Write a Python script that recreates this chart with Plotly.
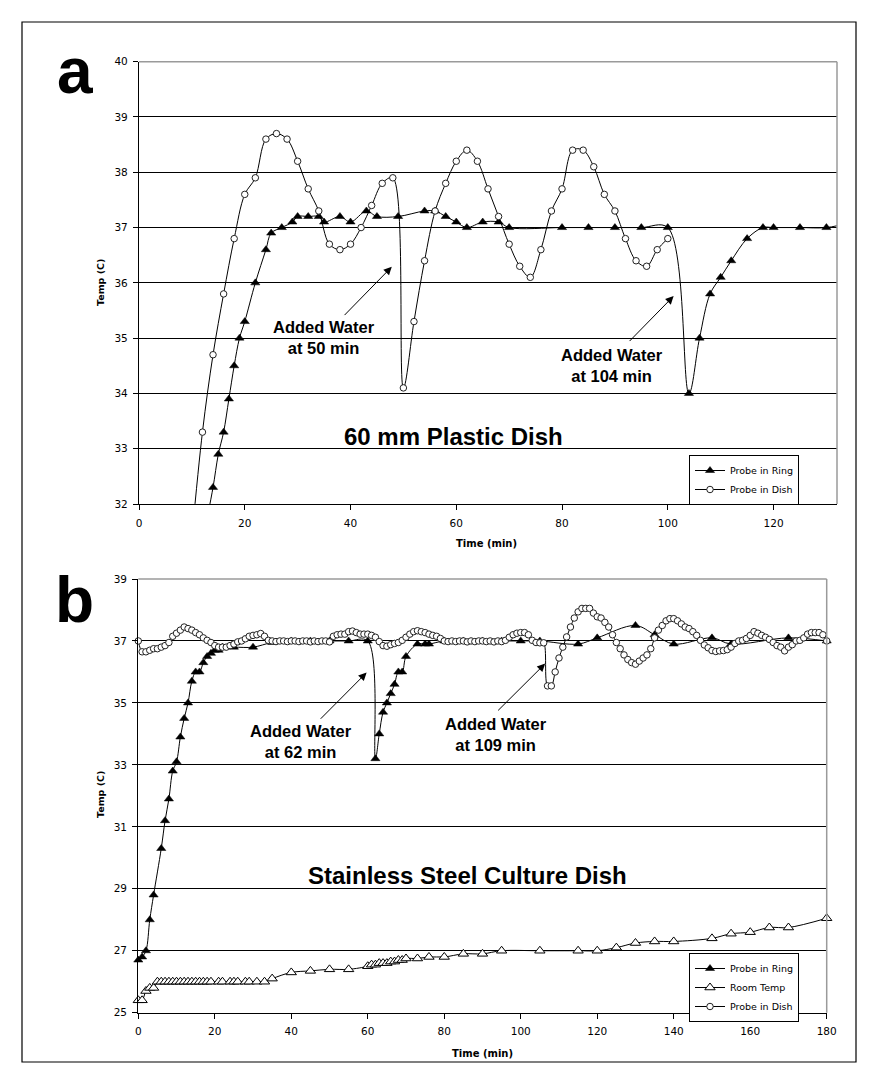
import plotly.graph_objects as go

W, H = 878, 1084

# ---------------- Panel a data (60 mm Plastic Dish) ----------------
ring_a_t = [13, 14, 15, 16, 17, 18, 19, 20, 22, 24, 25, 27, 29, 30, 32, 34, 35, 38, 40, 43,
            45, 49, 54, 56, 58, 60, 62, 65, 68, 70, 80, 85, 90, 95, 100, 104, 106, 108, 110,
            112, 115, 118, 120, 125, 130, 135]
ring_a_v = [31.8, 32.3, 32.9, 33.3, 33.9, 34.5, 35.0, 35.3, 36.0, 36.6, 36.9, 37.0, 37.1, 37.2,
            37.2, 37.2, 37.1, 37.2, 37.1, 37.3, 37.2, 37.2, 37.3, 37.3, 37.2, 37.1, 37.0, 37.1,
            37.1, 37.0, 37.0, 37.0, 37.0, 37.0, 37.0, 34.0, 35.0, 35.8, 36.1, 36.4, 36.8, 37.0,
            37.0, 37.0, 37.0, 37.1]

dish_a_t = [10, 12, 14, 16, 18, 20, 22, 24, 26, 28, 30, 32, 34, 36, 38, 40, 42, 44, 46, 48,
            50, 52, 54, 56, 58, 60, 62, 64, 66, 68, 70, 72, 74, 76, 78, 80, 82, 84, 86, 88,
            90, 92, 94, 96, 98, 100]
dish_a_v = [31.4, 33.3, 34.7, 35.8, 36.8, 37.6, 37.9, 38.6, 38.7, 38.6, 38.2, 37.7, 37.3, 36.7,
            36.6, 36.7, 37.0, 37.4, 37.8, 37.9, 34.1, 35.3, 36.4, 37.3, 37.8, 38.2, 38.4, 38.2,
            37.7, 37.2, 36.7, 36.3, 36.1, 36.6, 37.3, 37.7, 38.4, 38.4, 38.1, 37.6, 37.3, 36.8,
            36.4, 36.3, 36.6, 36.8]

# ---------------- Panel b data (Stainless Steel Culture Dish) ----------------
ring_b_t = [0, 1, 2, 3, 4, 6, 7, 8, 9, 10, 11, 12, 13, 14, 15, 16, 17, 18, 19, 20, 21, 22, 25,
            30, 35, 40, 45, 50, 55, 60, 62, 63, 64, 65, 66, 67, 68, 69, 70, 73, 75, 76, 80, 85,
            90, 95, 100, 105, 115, 120, 130, 135, 140, 150, 155, 170, 180]
ring_b_v = [26.7, 26.8, 27.0, 28.0, 28.8, 30.3, 31.2, 31.9, 32.8, 33.1, 33.9, 34.5, 35.0, 35.7,
            36.0, 36.0, 36.3, 36.5, 36.6, 36.7, 36.7, 36.8, 36.8, 36.8, 36.95, 37.0, 37.0, 37.0,
            37.0, 37.0, 33.2, 34.0, 34.7, 35.0, 35.3, 35.6, 36.0, 36.0, 36.5, 36.9, 36.9, 36.9,
            37.0, 37.0, 37.0, 37.0, 37.0, 37.0, 36.9, 37.1, 37.5, 37.2, 36.9, 37.1, 36.9, 37.1,
            37.0]

room_t = [0, 1, 2, 3, 4, 5, 6, 7, 8, 9, 10, 11, 12, 13, 14, 15, 16, 17, 18, 19, 21, 22, 24, 25,
          26, 28, 29, 31, 33, 35, 40, 45, 50, 55, 60, 61, 62, 63, 64, 65, 66, 67, 68, 69, 70, 73,
          76, 80, 85, 90, 95, 105, 115, 120, 125, 130, 135, 140, 150, 155, 160, 165, 170, 180]
room_v = [25.4, 25.4, 25.7, 25.8, 25.8, 26.0, 26.0, 26.0, 26.0, 26.0, 26.0, 26.0, 26.0, 26.0,
          26.0, 26.0, 26.0, 26.0, 26.0, 26.0, 26.0, 26.0, 26.0, 26.0, 26.0, 26.0, 26.0, 26.0,
          26.0, 26.1, 26.3, 26.35, 26.4, 26.4, 26.5, 26.55, 26.55, 26.6, 26.6, 26.6, 26.65,
          26.65, 26.7, 26.7, 26.75, 26.75, 26.8, 26.8, 26.9, 26.9, 27.0, 27.0, 27.0, 27.0, 27.1,
          27.25, 27.3, 27.3, 27.4, 27.55, 27.6, 27.75, 27.75, 28.05]

dish_b_t = list(range(0, 181))
dish_b_v = [37.0, 36.65, 36.65, 36.7, 36.75, 36.75, 36.8, 36.85, 36.95, 37.15,
            37.25, 37.35, 37.45, 37.4, 37.35, 37.27, 37.2, 37.1, 37.02, 36.95,
            36.85, 36.8, 36.8, 36.8, 36.85, 36.9, 36.97, 37.0, 37.07, 37.15,
            37.18, 37.2, 37.24, 37.15, 37.02, 37.0, 36.98, 37.0, 37.0, 36.98,
            37.0, 37.0, 36.98, 37.0, 37.0, 36.97, 37.0, 36.98, 37.0, 37.0,
            36.97, 37.15, 37.2, 37.22, 37.22, 37.3, 37.32, 37.27, 37.22, 37.22,
            37.22, 37.18, 37.12, 36.98, 36.85, 36.83, 36.88, 36.92, 36.95, 37.02,
            37.12, 37.22, 37.3, 37.33, 37.3, 37.27, 37.22, 37.18, 37.15, 37.08,
            37.0, 36.98, 37.0, 36.98, 37.0, 37.0, 36.97, 37.0, 36.98, 37.0,
            37.0, 36.98, 37.0, 36.97, 37.0, 36.98, 37.02, 37.12, 37.2, 37.25,
            37.27, 37.27, 37.2, 37.02, 36.95, 36.94, 36.94, 35.55, 35.55, 36.0,
            36.45, 36.8, 37.13, 37.45, 37.74, 37.94, 38.05, 38.05, 38.05, 37.9,
            37.78, 37.74, 37.6, 37.45, 37.2, 36.95, 36.75, 36.55, 36.4, 36.3,
            36.25, 36.35, 36.45, 36.55, 36.75, 37.1, 37.35, 37.5, 37.65, 37.72,
            37.72, 37.65, 37.55, 37.45, 37.4, 37.3, 37.18, 37.02, 36.87, 36.78,
            36.69, 36.66, 36.68, 36.69, 36.72, 36.8, 36.92, 37.0, 37.02, 37.08,
            37.18, 37.3, 37.25, 37.18, 37.12, 37.05, 36.95, 36.85, 36.8, 36.68,
            36.8, 36.88, 37.0, 37.02, 37.1, 37.22, 37.27, 37.27, 37.27, 37.2,
            37.0]

ya_ticks = [32, 33, 34, 35, 36, 37, 38, 39, 40]
yb_ticks = [25, 27, 29, 31, 33, 35, 37, 39]
xa_ticks = [0, 20, 40, 60, 80, 100, 120]
xb_ticks = [0, 20, 40, 60, 80, 100, 120, 140, 160, 180]

# ---------------- styles ----------------
LINE = dict(color="black", width=1, shape="spline", smoothing=1.0)
ring_marker = dict(symbol="triangle-up", size=8, color="black", line=dict(color="black", width=0.5))
dish_marker = dict(symbol="circle", size=6.5, color="white", line=dict(color="#222222", width=1))
room_marker = dict(symbol="triangle-up", size=9, color="white", line=dict(color="black", width=1))

fig = go.Figure()

# panel a
fig.add_trace(go.Scatter(x=ring_a_t, y=ring_a_v, mode="lines+markers", name="Probe in Ring",
                         line=LINE, marker=ring_marker, xaxis="x", yaxis="y", legend="legend"))
fig.add_trace(go.Scatter(x=dish_a_t, y=dish_a_v, mode="lines+markers", name="Probe in Dish",
                         line=LINE, marker=dish_marker, xaxis="x", yaxis="y", legend="legend"))
# panel b
fig.add_trace(go.Scatter(x=ring_b_t, y=ring_b_v, mode="lines+markers", name="Probe in Ring",
                         line=LINE, marker=ring_marker, xaxis="x2", yaxis="y2", legend="legend2",
                         cliponaxis=False))
fig.add_trace(go.Scatter(x=room_t, y=room_v, mode="lines+markers", name="Room Temp",
                         line=LINE, marker=room_marker, xaxis="x2", yaxis="y2", legend="legend2",
                         cliponaxis=False))
fig.add_trace(go.Scatter(x=dish_b_t, y=dish_b_v, mode="lines+markers", name="Probe in Dish",
                         line=LINE, marker=dish_marker, xaxis="x2", yaxis="y2", legend="legend2",
                         cliponaxis=False))

TICKFONT = dict(family="DejaVu Sans", size=10.5, color="black")


def xaxis_style(domain, rng, ticks, anchor):
    return dict(domain=domain, range=rng, tickvals=ticks, ticktext=[str(t) for t in ticks],
                showgrid=False, zeroline=False, showline=True, linecolor="black", linewidth=1.3,
                ticks="outside", ticklen=5, tickwidth=1.2, tickcolor="black",
                tickfont=TICKFONT, anchor=anchor, ticklabelstandoff=4, fixedrange=True,
                automargin=False)


def yaxis_style(domain, rng, ticks, anchor):
    return dict(domain=domain, range=rng, tickvals=ticks, ticktext=[str(t) for t in ticks],
                showgrid=True, gridcolor="black", gridwidth=1.3, zeroline=False,
                showline=True, linecolor="black", linewidth=1.3,
                ticks="outside", ticklen=5, tickwidth=1.2, tickcolor="black",
                tickfont=TICKFONT, anchor=anchor, ticklabelstandoff=3, fixedrange=True,
                automargin=False)


def px_x(p):
    return p / W


def px_y(p):
    return 1 - p / H


LEG = dict(bgcolor="white", bordercolor="black", borderwidth=1,
           font=dict(family="DejaVu Sans", size=9.5, color="black"),
           xanchor="left", yanchor="top", itemwidth=30, tracegroupgap=0)

fig.update_layout(
    width=W, height=H,
    margin=dict(l=0, r=0, t=0, b=0, pad=0, autoexpand=False),
    paper_bgcolor="white", plot_bgcolor="white",
    showlegend=True,
    xaxis=xaxis_style([px_x(139), px_x(837)], [0, 132], xa_ticks, "y"),
    yaxis=yaxis_style([px_y(504), px_y(61.7)], [32, 40], ya_ticks, "x"),
    xaxis2=xaxis_style([px_x(138.3), px_x(826.7)], [0, 180], xb_ticks, "y2"),
    yaxis2=yaxis_style([px_y(1012.7), px_y(579)], [25, 39], yb_ticks, "x2"),
    legend=dict(LEG, x=px_x(689), y=px_y(455)),
    legend2=dict(LEG, x=px_x(689), y=px_y(953)),
)

# gray top/right borders of the plot areas and outer frame
shapes = []
for xr, yr in (("x domain", "y domain"), ("x2 domain", "y2 domain")):
    shapes.append(dict(type="line", xref=xr, yref=yr, x0=0, x1=1, y0=1, y1=1,
                       line=dict(color="#9a9a9a", width=1.5), layer="above"))
    shapes.append(dict(type="line", xref=xr, yref=yr, x0=1, x1=1, y0=0, y1=1,
                       line=dict(color="#9a9a9a", width=1.5), layer="above"))
shapes.append(dict(type="rect", xref="paper", yref="paper",
                   x0=px_x(22), x1=px_x(856), y0=px_y(1062), y1=px_y(22),
                   line=dict(color="black", width=1.2), layer="above"))
fig.update_layout(shapes=shapes)

BIG = "Liberation Sans, Arial, sans-serif"
ann = []
# panel letters
ann.append(dict(text="<b>a</b>", xref="paper", yref="paper", x=px_x(75), y=px_y(71),
                xanchor="center", yanchor="middle", showarrow=False,
                font=dict(family=BIG, size=64, color="black")))
ann.append(dict(text="<b>b</b>", xref="paper", yref="paper", x=px_x(74), y=px_y(600),
                xanchor="center", yanchor="middle", showarrow=False,
                font=dict(family=BIG, size=64, color="black")))
# axis titles
for txt, x, y, ang in (("Temp (C)", 100, 283, -90), ("Temp (C)", 100, 795, -90),
                       ("Time (min)", 487, 543, 0), ("Time (min)", 482.5, 1053, 0)):
    ann.append(dict(text="<b>" + txt + "</b>", xref="paper", yref="paper", x=px_x(x), y=px_y(y),
                    xanchor="center", yanchor="middle", showarrow=False, textangle=ang,
                    font=dict(family="DejaVu Sans", size=10 if ang == 0 else 9.5, color="black")))
# inner titles
ann.append(dict(text="<b>60 mm Plastic Dish</b>", xref="x", yref="y", x=59.4, y=33.23,
                showarrow=False, xanchor="center", yanchor="middle",
                font=dict(family=BIG, size=24, color="black")))
ann.append(dict(text="<b>Stainless Steel Culture Dish</b>", xref="x2", yref="y2", x=85.96, y=29.44,
                showarrow=False, xanchor="center", yanchor="middle",
                font=dict(family=BIG, size=24, color="black")))
# "Added Water" labels
for txt, xr, yr, x, y in (("Added Water<br>at 50 min", "x", "y", 34.98, 35.01),
                          ("Added Water<br>at 104 min", "x", "y", 89.45, 34.50),
                          ("Added Water<br>at 62 min", "x2", "y2", 42.47, 33.75),
                          ("Added Water<br>at 109 min", "x2", "y2", 93.54, 33.99)):
    ann.append(dict(text="<b>" + txt.replace("<br>", "</b><br><b>") + "</b>", xref=xr, yref=yr,
                    x=x, y=y, showarrow=False, xanchor="center", yanchor="middle",
                    font=dict(family=BIG, size=16.5, color="black")))
# arrows (head at x,y; tail at ax,ay)
for xr, yr, hx, hy, tx, ty in (("x", "y", 47.8, 36.29, 38.6, 35.39),
                               ("x", "y", 101.1, 35.76, 92.5, 34.92),
                               ("x2", "y2", 59.7, 35.98, 47.3, 34.44),
                               ("x2", "y2", 106.4, 36.27, 93.7, 34.71)):
    ann.append(dict(text="", xref=xr, yref=yr, x=hx, y=hy, axref=xr, ayref=yr, ax=tx, ay=ty,
                    showarrow=True, arrowhead=2, arrowsize=1.6, arrowwidth=1, arrowcolor="black"))
fig.update_layout(annotations=ann)

fig.write_html(
    "out.html",
    config={"displayModeBar": False, "staticPlot": False},
    post_script="document.body.style.margin='0';document.body.style.padding='0';"
                "document.documentElement.style.overflow='hidden';",
)
